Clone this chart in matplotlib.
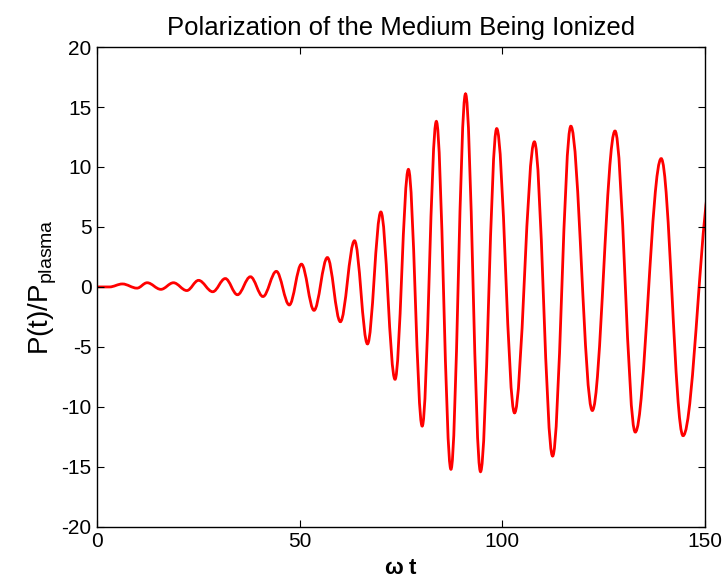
import matplotlib
matplotlib.use("Agg")
import matplotlib.pyplot as plt
from matplotlib.path import Path
from matplotlib.patches import PathPatch

# turning points of the polarization curve (omega*t, P/P_plasma)
wt_extrema = [0, 3.0, 6.2, 9.8, 12.3, 15.7, 18.8, 22.1, 25.0, 28.5, 31.6, 34.6,
              37.8, 40.9, 44.2, 47.4, 50.4, 53.5, 56.8, 60.0, 63.5, 66.7, 70.0,
              73.5, 76.8, 80.2, 83.7, 87.3, 90.9, 94.6, 98.6, 103.0, 107.9,
              112.4, 116.9, 122.2, 127.8, 132.8, 139.2, 144.6, 151.9]
p_extrema = [0, 0, 0.25, -0.1, 0.35, -0.2, 0.35, -0.3, 0.55, -0.4, 0.7, -0.65,
             0.85, -0.8, 1.3, -1.5, 1.9, -1.95, 2.45, -2.9, 3.85, -4.75, 6.25,
             -7.7, 9.8, -11.6, 13.8, -15.2, 16.1, -15.4, 13.2, -10.5, 12.1,
             -14.1, 13.4, -10.3, 13.0, -12.1, 10.7, -12.4, 9.5]

x_ticks = [0, 50, 100, 150]
y_ticks = [-20, -15, -10, -5, 0, 5, 10, 15, 20]

plt.rcParams["font.family"] = ["Liberation Sans", "DejaVu Sans"]
plt.rcParams["mathtext.default"] = "regular"
plt.rcParams["axes.unicode_minus"] = False


def smooth_path(xs, ys, handle=0.36):
    # cubic bezier between turning points, flat tangent at each one
    verts = [(xs[0], ys[0])]
    codes = [Path.MOVETO]
    for x0, y0, x1, y1 in zip(xs[:-1], ys[:-1], xs[1:], ys[1:]):
        d = (x1 - x0) * handle
        verts += [(x0 + d, y0), (x1 - d, y1), (x1, y1)]
        codes += [Path.CURVE4] * 3
    return Path(verts, codes)


fig = plt.figure(figsize=(7.26, 5.88), dpi=100)
ax = fig.add_axes([0.134, 0.104, 0.837, 0.816])

curve = PathPatch(smooth_path(wt_extrema, p_extrema), facecolor="none",
                  edgecolor="red", linewidth=2.0, transform=ax.transData)
ax.add_patch(curve)

ax.set_xlim(0, 150)
ax.set_ylim(-20, 20)
ax.set_xticks(x_ticks)
ax.set_yticks(y_ticks)
ax.tick_params(direction="in", top=True, right=True, length=5, width=0.8,
               labelsize=15, pad=4)
for s in ax.spines.values():
    s.set_linewidth(1.0)

ax.set_title("Polarization of the Medium Being Ionized", fontsize=18.5, pad=8.5)
ax.set_xlabel(r"$\omega$ t", fontsize=16, fontweight="bold", labelpad=5)
ax.set_ylabel(r"P(t)/P$_{plasma}$", fontsize=20, labelpad=2)

fig.savefig("out.png", dpi=100)
